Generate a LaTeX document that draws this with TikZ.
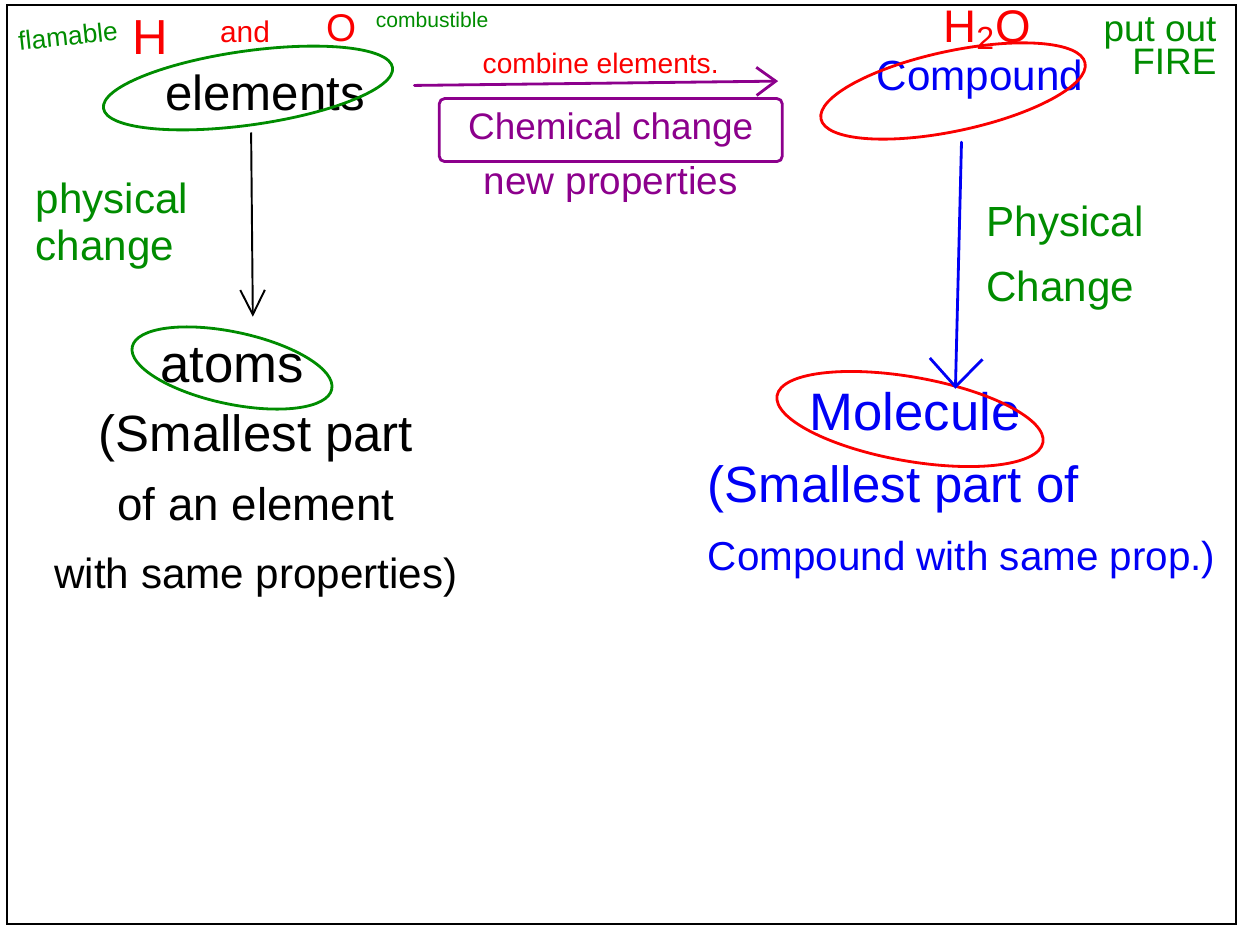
\documentclass[tikz,border=0pt]{standalone}
\usepackage{fontspec}
\setmainfont{Liberation Sans}
\usetikzlibrary{positioning,arrows.meta}

\definecolor{penGreen}{RGB}{0,140,0}
\definecolor{penRed}{RGB}{250,0,0}
\definecolor{penBlue}{RGB}{0,0,245}
\definecolor{penPurple}{RGB}{140,0,140}

\newcommand{\pen}[2]{\fontsize{#1}{#2}\selectfont}

\begin{document}
\begin{tikzpicture}[
        x=0.02cm, y=-0.02cm,
        stroke/.style={line width=1.6pt, line cap=round, line join=round},
        word/.style={inner sep=2pt}
    ]
    \useasboundingbox (0,0) rectangle (1239,926);
    \draw[line width=1.4pt] (7,5) rectangle (1236,924);

    % notes along the top
    \node[word, text=penGreen, rotate=6, font=\pen{15}{18}] (flam) at (68,36) {flamable};
    \node[word, text=penRed, font=\pen{28}{30}] (hyd) at (150,38) {H};
    \node[word, text=penRed, font=\pen{17}{20}] (andword) at (245,32) {and};
    \node[word, text=penRed, font=\pen{22}{24}] (oxy) at (342,28) {O};
    \node[word, text=penGreen, font=\pen{12}{14}] (comb) at (432,20) {combustible};
    \node[word, text=penRed, font=\pen{26}{28}] (water) at (987,30) {H\textsubscript{2}O};
    \node[word, text=penGreen, align=right, font=\pen{21}{19}] (fire) at (1160,46) {put out\\FIRE};

    % the four main words
    \node[word, font=\pen{28}{30}] (elements) at (265,93) {elements};
    \node[word, font=\pen{30}{32}] (atoms) at (232,366) {atoms};
    \node[word, text=penBlue, font=\pen{24}{26}] (compound) at (980,80) {Compound};
    \node[word, text=penBlue, font=\pen{30}{32}] (molecule) at (915,412) {Molecule};

    % rings round them
    \draw[stroke, penGreen, rotate around={8:(248,88)}] (248,88) ellipse [x radius=2.92cm, y radius=0.74cm];
    \draw[stroke, penGreen, rotate around={-12:(232,368)}] (232,368) ellipse [x radius=2.04cm, y radius=0.72cm];
    \draw[stroke, penRed, rotate around={12:(953,91)}] (953,91) ellipse [x radius=2.7cm, y radius=0.8cm];
    \draw[stroke, penRed, rotate around={-10:(910,419)}] (910,419) ellipse [x radius=2.7cm, y radius=0.84cm];

    \node[word, text=penGreen, align=left, font=\pen{24}{27}] (physL) at (112,226) {physical\\change};
    \node[word, text=penGreen, align=left, font=\pen{24}{37}] (physR) at (1065,258) {Physical\\Change};

    \node[word, align=center, font=\pen{24}{39}] (atomsdef) at (256,506)
        {\pen{29}{39}(Smallest part\\\pen{26}{39}of an element\\with same properties)};
    \node[word, text=penBlue, align=left, anchor=west, font=\pen{23}{39}] (moldef) at (704,522)
        {\pen{29}{39}(Smallest part of\\Compound with same prop.)};

    % changes
    \draw[stroke, penPurple, -{Straight Barb[length=11pt, width=16pt]}, shorten <=26pt, shorten >=54pt]
        ([yshift=4pt]elements.east) --
        node[pos=0.46, above=1pt, text=penRed, font=\pen{16}{18}] (combine) {combine elements.}
        node[pos=0.48, below=8pt, draw=penPurple, stroke, rounded corners=3pt, text=penPurple,
             font=\pen{21}{24}, minimum width=6.86cm, minimum height=1.26cm] (chem) {Chemical change}
        (compound.west);
    \node[word, text=penPurple, font=\pen{22}{24}, below=0pt of chem] (newprops) {new properties};

    \draw[line width=1.1pt, -{Straight Barb[length=14pt, width=14pt]}, shorten <=10pt, shorten >=16pt]
        ([xshift=-8pt]elements.south) -- ([xshift=12pt]atoms.north);
    \draw[stroke, penBlue, -{Straight Barb[length=16pt, width=30pt]}, shorten <=22pt]
        ([xshift=-10pt]compound.south) -- ([xshift=23pt]molecule.north);
\end{tikzpicture}
\end{document}
